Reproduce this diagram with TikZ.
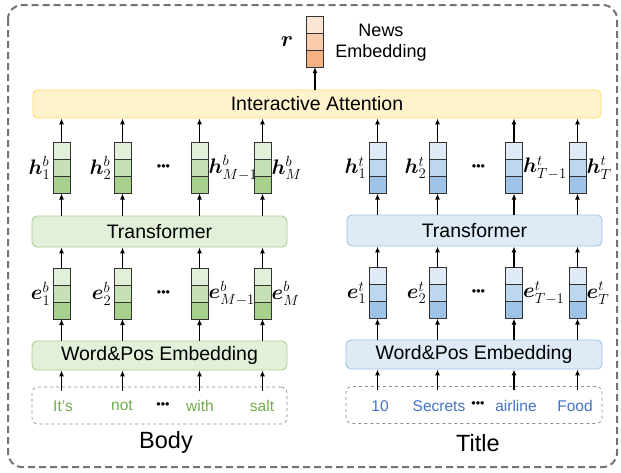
\RequirePackage{fix-cm}
\documentclass[tikz,border=0pt]{standalone}
\usepackage{fontspec}
\setmainfont{Liberation Sans}
\usepackage{amsmath,bm}
\usetikzlibrary{arrows.meta,calc}
\definecolor{g1}{HTML}{E2F0D9}
\definecolor{g2}{HTML}{C5E0B4}
\definecolor{g3}{HTML}{A9D18E}
\definecolor{b1}{HTML}{DEEBF7}
\definecolor{b2}{HTML}{BDD7EE}
\definecolor{b3}{HTML}{9DC3E6}
\definecolor{o1}{HTML}{FBE5D6}
\definecolor{o2}{HTML}{F8CBAD}
\definecolor{o3}{HTML}{F4B183}
\definecolor{yfill}{HTML}{FFF2CC}
\definecolor{yborder}{HTML}{FFD966}
\definecolor{gword}{HTML}{70AD47}
\definecolor{bword}{HTML}{4472C4}
\tikzset{
 cell/.style={draw=black!80, line width=0.9pt, minimum width=17pt, minimum height=17pt, inner sep=0pt, outer sep=0pt},
 block/.style={rounded corners=5pt, line width=0.9pt, inner sep=0pt, font=\fontsize{19.5}{22}\selectfont},
 arr/.style={line width=1.3pt, -{Latex[length=6pt,width=5pt]}},
 lbl/.style={font=\fontsize{21}{24}\selectfont, inner sep=0.5pt},
 inbox/.style={draw=black!45, dashed, line width=0.7pt, rounded corners=6pt, minimum width=255pt, minimum height=37pt},
 word/.style={font=\fontsize{15.5}{18}\selectfont, inner sep=0pt},
 dotsnode/.style={font=\fontsize{12.5}{14}\selectfont, inner sep=0pt},
 capt/.style={font=\fontsize{23.5}{26}\selectfont, inner sep=0pt},
 outerbox/.style={draw=black!55, line width=2pt, dash pattern=on 7pt off 4pt, rounded corners=14pt},
}
\newcommand\mkvec[6]{%
 \node[cell,fill=#4] (#1-1) at (#2,#3-17) {};
 \node[cell,fill=#5] (#1-2) at (#2,#3) {};
 \node[cell,fill=#6] (#1-3) at (#2,#3+17) {};}
\begin{document}
\begin{tikzpicture}[x=1pt,y=-1pt]
\useasboundingbox (0,0) rectangle (621,472);
\draw[outerbox] (8,5) rectangle (617,467);
% output vector
\node[cell,fill=o1] (r-1) at (315,24.5) {};
\node[cell,fill=o2] (r-2) at (315,41.5) {};
\node[cell,fill=o3] (r-3) at (315,58.5) {};
\node[font=\fontsize{22}{24}\selectfont, inner sep=0pt] (rlbl) at (287,42) {$\bm{r}$};
\node[align=center, font=\fontsize{18}{21}\selectfont, inner sep=0pt] (news) at (381,43) {News\\Embedding};
% interactive attention
\node[block, fill=yfill, draw=yborder, minimum width=568pt, minimum height=28pt] (ia) at (317,104) {Interactive Attention};
\draw[arr] (r-3.south |- ia.north) -- (r-3.south);
% blocks
\node[block, fill=g1, draw=g3, minimum width=255pt, minimum height=31pt] (trl) at (159.5,231.5) {Transformer};
\node[block, fill=b1, draw=b3, minimum width=255pt, minimum height=31pt] (trr) at (474.5,230.5) {Transformer};
\node[block, fill=g1, draw=g3, minimum width=255pt, minimum height=29pt] (wpl) at (159.5,355.5) {Word\&Pos Embedding};
\node[block, fill=b1, draw=b3, minimum width=256pt, minimum height=29pt] (wpr) at (474,354.5) {Word\&Pos Embedding};
\node[inbox] (inl) at (159.5,405.5) {};
\node[inbox, minimum width=256pt] (inr) at (474,405) {};
% vectors and arrows
\foreach \i/\x in {1/61.5, 2/122.5, 3/199.5, 4/262.5}{
 \mkvec{hb\i}{\x}{168}{g1}{g2}{g3}
 \mkvec{eb\i}{\x}{293.5}{g1}{g2}{g3}
 \draw[arr] (hb\i-1.north) -- (hb\i-1.north |- ia.south);
 \draw[arr] (hb\i-3.south |- trl.north) -- (hb\i-3.south);
 \draw[arr] (eb\i-1.north) -- (eb\i-1.north |- trl.south);
 \draw[arr] (eb\i-3.south |- wpl.north) -- (eb\i-3.south);
 \draw[arr] ($(eb\i-3.south |- inl.north)+(0,4)$) -- (eb\i-3.south |- wpl.south);
}
\foreach \i/\x in {1/377.5, 2/437.5, 3/514, 4/577.5}{
 \mkvec{ht\i}{\x}{168}{b1}{b2}{b3}
 \mkvec{et\i}{\x}{293}{b1}{b2}{b3}
 \draw[arr] (ht\i-1.north) -- (ht\i-1.north |- ia.south);
 \draw[arr] (ht\i-3.south |- trr.north) -- (ht\i-3.south);
 \draw[arr] (et\i-1.north) -- (et\i-1.north |- trr.south);
 \draw[arr] (et\i-3.south |- wpr.north) -- (et\i-3.south);
 \draw[arr] ($(et\i-3.south |- inr.north)+(0,4)$) -- (et\i-3.south |- wpr.south);
}
% labels body
\node[lbl,anchor=east] (lhb1) at ([xshift=-2pt]hb1-2.west) {$\bm{h}^b_1$};
\node[lbl,anchor=east] (lhb2) at ([xshift=-2pt]hb2-2.west) {$\bm{h}^b_2$};
\node[lbl,anchor=west] (lhb3) at (hb3-2.east) {$\bm{h}^b_{M-1}$};
\node[lbl,anchor=west] (lhb4) at (hb4-2.east) {$\bm{h}^b_M$};
\node[lbl,anchor=east] (leb1) at ([xshift=-2pt]eb1-2.west) {$\bm{e}^b_1$};
\node[lbl,anchor=east] (leb2) at ([xshift=-2pt]eb2-2.west) {$\bm{e}^b_2$};
\node[lbl,anchor=west] (leb3) at (eb3-2.east) {$\bm{e}^b_{M-1}$};
\node[lbl,anchor=west] (leb4) at (eb4-2.east) {$\bm{e}^b_M$};
\node[dotsnode] (dhb) at (163.5,168) {•••};
\node[dotsnode] (deb) at (163.5,293.5) {•••};
% labels title
\node[lbl,anchor=east] (lht1) at ([xshift=-2pt]ht1-2.west) {$\bm{h}^t_1$};
\node[lbl,anchor=east] (lht2) at ([xshift=-2pt]ht2-2.west) {$\bm{h}^t_2$};
\node[lbl,anchor=west] (lht3) at (ht3-2.east) {$\bm{h}^t_{T-1}$};
\node[lbl,anchor=west] (lht4) at (ht4-2.east) {$\bm{h}^t_T$};
\node[lbl,anchor=east] (let1) at ([xshift=-2pt]et1-2.west) {$\bm{e}^t_1$};
\node[lbl,anchor=east] (let2) at ([xshift=-2pt]et2-2.west) {$\bm{e}^t_2$};
\node[lbl,anchor=west] (let3) at (et3-2.east) {$\bm{e}^t_{T-1}$};
\node[lbl,anchor=west] (let4) at (et4-2.east) {$\bm{e}^t_T$};
\node[dotsnode] (dht) at (478.5,168) {•••};
\node[dotsnode] (det) at (478.5,293) {•••};
% words
\node[word,text=gword] (w1) at (63,406) {It’s};
\node[word,text=gword] (w2) at (122,406) {not};
\node[dotsnode] (wd1) at (163,406) {•••};
\node[word,text=gword] (w3) at (200,406) {with};
\node[word,text=gword] (w4) at (262,406) {salt};
\node[word,text=bword] (t1) at (380,406) {10};
\node[word,text=bword] (t2) at (439,406) {Secrets};
\node[dotsnode] (wd2) at (478,405) {•••};
\node[word,text=bword] (t3) at (516,406) {airline};
\node[word,text=bword] (t4) at (575,406) {Food};
\node[capt] (body) at (166,442) {Body};
\node[capt] (title) at (478,443) {Title};
\end{tikzpicture}
\end{document}
